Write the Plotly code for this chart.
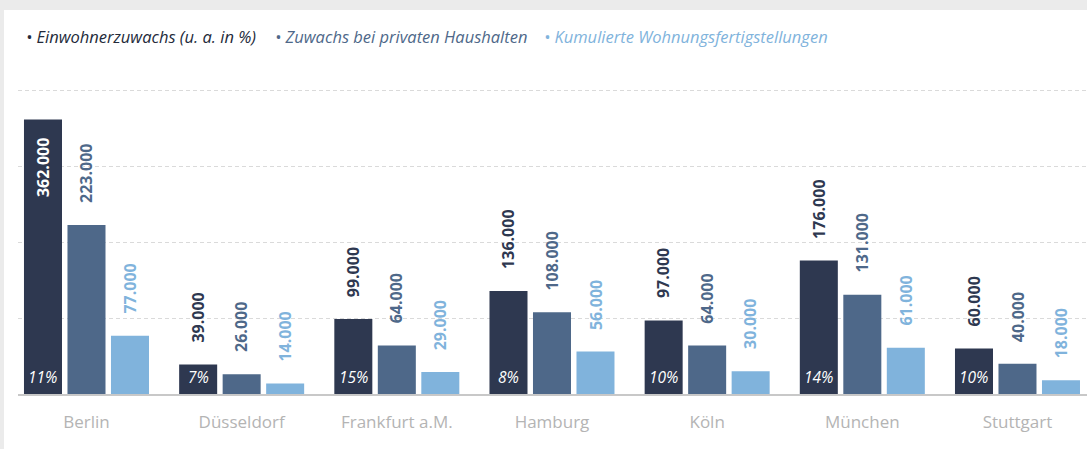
import plotly.graph_objects as go

categories = ["Berlin", "Düsseldorf", "Frankfurt a.M.", "Hamburg", "Köln", "München", "Stuttgart"]
einwohner = [362000, 39000, 99000, 136000, 97000, 176000, 60000]
haushalte = [223000, 26000, 64000, 108000, 64000, 131000, 40000]
wohnungen = [77000, 14000, 29000, 56000, 30000, 61000, 18000]
prozent = ["11%", "7%", "15%", "8%", "10%", "14%", "10%"]

series_names = ["Einwohnerzuwachs (u. a. in %)", "Zuwachs bei privaten Haushalten",
                "Kumulierte Wohnungsfertigstellungen"]
series_values = [einwohner, haushalte, wohnungen]
colors = ["#2e3850", "#4e6889", "#80b3dc"]
legend_colors = ["#232a3a", "#4e6889", "#80b3dc"]

W, H = 1087, 449
ML, MR, MT, MB = 18, 0, 76, 55
PW, PH = W - ML - MR, H - MT - MB

def px_x(p):
    return (p - ML) / PW

def px_y(p):
    return (H - MB - p) / PH

fig = go.Figure()
for name, vals, c in zip(series_names, series_values, colors):
    fig.add_trace(go.Bar(x=categories, y=vals, name=name, marker_color=c,
                         marker_line_width=0, showlegend=False, hoverinfo="x+y"))

def fmt(v):
    return f"{v:,}".replace(",", ".")

annotations = []
offsets = [-43.5, 0, 43.5]
inside_threshold = 300000
for si, (vals, c) in enumerate(zip(series_values, colors)):
    for cat, v in zip(categories, vals):
        inside = v > inside_threshold
        annotations.append(dict(
            x=cat, y=v, xref="x", yref="y", text=fmt(v), showarrow=False,
            textangle=-90, xshift=offsets[si],
            yanchor="top" if inside else "bottom",
            yshift=-16 if inside else 20,
            font=dict(family="Open Sans", size=16, color="white" if inside else c,
                      weight="bold"),
        ))

for cat, p in zip(categories, prozent):
    annotations.append(dict(
        x=cat, y=0, xref="x", yref="y", text=p, showarrow=False,
        xshift=offsets[0], yanchor="bottom", yshift=4,
        font=dict(family="Open Sans", size=15.5, color="white", style="italic"),
    ))

legend_x = [24, 273, 542]
for name, lc, lx in zip(series_names, legend_colors, legend_x):
    annotations.append(dict(
        x=px_x(lx), y=px_y(36), xref="paper", yref="paper", xanchor="left",
        yanchor="middle", text="• " + name, showarrow=False,
        font=dict(family="Open Sans", size=16.5, color=lc, style="italic"),
    ))

fig.update_layout(
    width=W, height=H,
    margin=dict(l=ML, r=MR, t=MT, b=MB),
    paper_bgcolor="#ebebeb",
    plot_bgcolor="rgba(0,0,0,0)",
    barmode="group", bargap=0.159, bargroupgap=0.126,
    annotations=annotations,
    shapes=[dict(type="rect", xref="paper", yref="paper",
                 x0=px_x(4), x1=1.02, y0=-0.3, y1=px_y(10),
                 fillcolor="white", line_width=0, layer="below")],
    xaxis=dict(type="category", range=[-0.4414, 6.448], showline=True,
               linecolor="#c8c8c8", linewidth=2, ticks="outside", ticklen=12,
               tickcolor="rgba(0,0,0,0)", showgrid=False,
               tickfont=dict(family="Open Sans", size=17, color="#b4b4b4")),
    yaxis=dict(range=[0, 419500], dtick=100000, showticklabels=False,
               showgrid=True, gridcolor="#dadada", griddash="4px,3px",
               gridwidth=1, zeroline=False),
)

fig.write_html("out.html", config={"displayModeBar": False},
               post_script="document.body.style.margin='0px';")
